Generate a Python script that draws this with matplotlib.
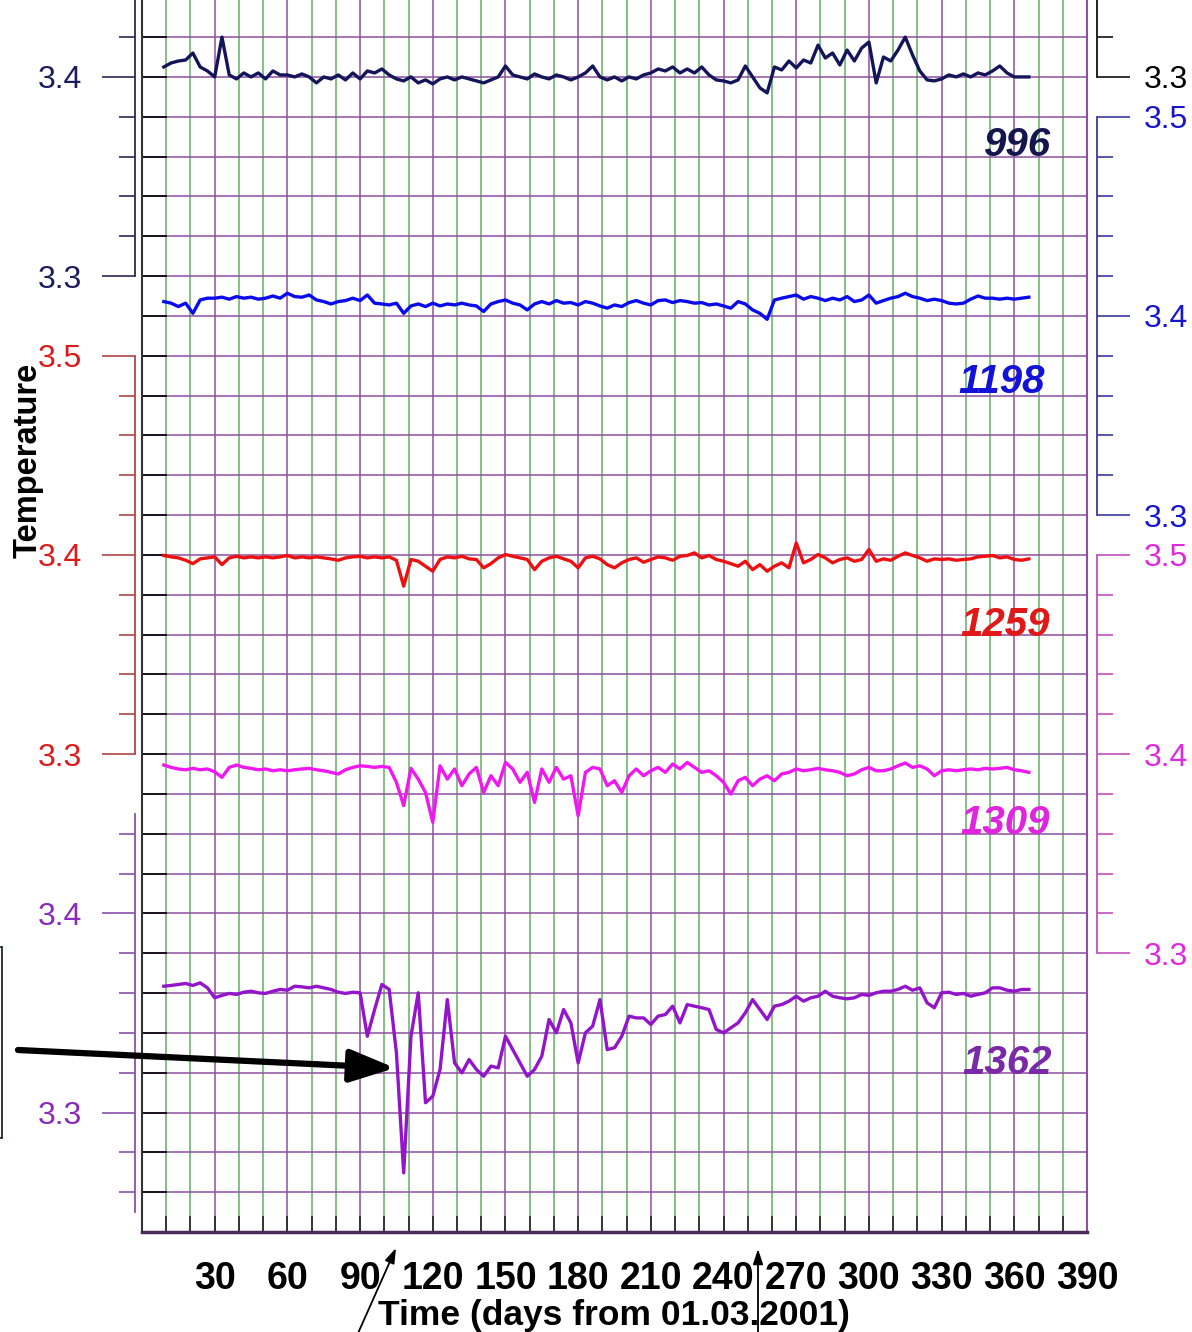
import numpy as np
import matplotlib
matplotlib.use('Agg')
import matplotlib.pyplot as plt
import matplotlib.font_manager as fm
from matplotlib.patches import FancyArrowPatch, Rectangle
from matplotlib.ticker import FixedLocator, FormatStrFormatter

names = {f.name for f in fm.fontManager.ttflist}
FONT = 'Liberation Sans Narrow' if 'Liberation Sans Narrow' in names else 'Liberation Sans'
plt.rcParams['font.family'] = [FONT, 'DejaVu Sans']

# ---- data (days from 01.03.2001, temperature) ----
days = np.arange(9, 367, 3)

t996 = [3.405, 3.407, 3.408, 3.4085, 3.412, 3.405, 3.403, 3.400, 3.420, 3.401,
        3.399, 3.402, 3.400, 3.402, 3.399, 3.403, 3.401, 3.401, 3.400, 3.4015,
        3.400, 3.397, 3.400, 3.399, 3.401, 3.3985, 3.402, 3.399, 3.403, 3.402,
        3.404, 3.401, 3.399, 3.398, 3.400, 3.397, 3.3985, 3.3965, 3.399, 3.400,
        3.3985, 3.400, 3.399, 3.398, 3.397, 3.3985, 3.400, 3.4055, 3.401, 3.400,
        3.399, 3.4015, 3.400, 3.399, 3.401, 3.400, 3.3985, 3.400, 3.402, 3.4055,
        3.400, 3.3985, 3.400, 3.398, 3.400, 3.399, 3.401, 3.402, 3.404, 3.403,
        3.405, 3.402, 3.404, 3.402, 3.405, 3.401, 3.3985, 3.398, 3.397, 3.3985,
        3.4055, 3.400, 3.3945, 3.392, 3.405, 3.4035, 3.408, 3.4045, 3.4085, 3.407,
        3.416, 3.4095, 3.412, 3.406, 3.4135, 3.408, 3.4145, 3.4175, 3.397, 3.410,
        3.408, 3.4135, 3.420, 3.411, 3.403, 3.3985, 3.398, 3.399, 3.401, 3.400,
        3.4015, 3.400, 3.402, 3.401, 3.403, 3.4055, 3.402, 3.400, 3.400, 3.400]

t1198 = [3.4072, 3.4064, 3.4047, 3.4064, 3.4013, 3.4080, 3.4089, 3.4089, 3.4094, 3.4084,
         3.4097, 3.4089, 3.4094, 3.4084, 3.4089, 3.4100, 3.4089, 3.4114, 3.4097, 3.4094,
         3.4105, 3.4080, 3.4072, 3.4060, 3.4072, 3.4077, 3.4089, 3.4077, 3.4105, 3.4064,
         3.4060, 3.4055, 3.4064, 3.4013, 3.4050, 3.4060, 3.4047, 3.4064, 3.4050, 3.4060,
         3.4055, 3.4064, 3.4055, 3.4050, 3.4022, 3.4060, 3.4072, 3.4080, 3.4064, 3.4055,
         3.4030, 3.4060, 3.4072, 3.4060, 3.4077, 3.4064, 3.4067, 3.4055, 3.4072, 3.4064,
         3.4050, 3.4039, 3.4055, 3.4047, 3.4067, 3.4077, 3.4064, 3.4055, 3.4077, 3.4080,
         3.4067, 3.4077, 3.4072, 3.4064, 3.4067, 3.4055, 3.4060, 3.4050, 3.4039, 3.4072,
         3.4060, 3.4030, 3.4013, 3.3983, 3.4080, 3.4089, 3.4097, 3.4105, 3.4084, 3.4097,
         3.4089, 3.4077, 3.4089, 3.4080, 3.4097, 3.4072, 3.4080, 3.4105, 3.4064, 3.4077,
         3.4089, 3.4097, 3.4114, 3.4097, 3.4089, 3.4077, 3.4084, 3.4077, 3.4064, 3.4060,
         3.4064, 3.4084, 3.4100, 3.4089, 3.4089, 3.4084, 3.4089, 3.4084, 3.4089, 3.4094]

t1259 = [3.3997, 3.3990, 3.3985, 3.3973, 3.3956, 3.3980, 3.3985, 3.3990, 3.3951, 3.3985,
         3.3993, 3.3985, 3.3990, 3.3985, 3.3990, 3.3985, 3.3990, 3.3997, 3.3985, 3.3990,
         3.3985, 3.3990, 3.3985, 3.3980, 3.3973, 3.3985, 3.3990, 3.3993, 3.3985, 3.3990,
         3.3985, 3.3990, 3.3973, 3.3843, 3.3977, 3.3968, 3.3943, 3.3918, 3.3977, 3.3990,
         3.3985, 3.3993, 3.3980, 3.3977, 3.3935, 3.3956, 3.3985, 3.4002, 3.3993, 3.3985,
         3.3977, 3.3926, 3.3968, 3.3985, 3.3993, 3.3980, 3.3968, 3.3935, 3.3985, 3.3993,
         3.3980, 3.3951, 3.3935, 3.3960, 3.3977, 3.3985, 3.3963, 3.3977, 3.3990, 3.3985,
         3.3973, 3.3993, 3.3997, 3.4010, 3.3985, 3.3997, 3.3977, 3.3968, 3.3956, 3.3943,
         3.3968, 3.3926, 3.3951, 3.3918, 3.3943, 3.3960, 3.3935, 3.4060, 3.3960, 3.3977,
         3.4002, 3.3985, 3.3960, 3.3977, 3.3985, 3.3968, 3.3977, 3.4027, 3.3968, 3.3980,
         3.3973, 3.3993, 3.4010, 3.3997, 3.3985, 3.3968, 3.3980, 3.3977, 3.3980, 3.3973,
         3.3977, 3.3980, 3.3990, 3.3993, 3.3997, 3.3985, 3.3990, 3.3977, 3.3973, 3.3980]

t1309 = [3.3945, 3.3933, 3.3925, 3.3921, 3.3928, 3.3921, 3.3925, 3.3911, 3.3883, 3.3933,
         3.3945, 3.3933, 3.3928, 3.3921, 3.3925, 3.3916, 3.3921, 3.3916, 3.3921, 3.3925,
         3.3928, 3.3921, 3.3916, 3.3908, 3.3900, 3.3921, 3.3933, 3.3941, 3.3938, 3.3933,
         3.3938, 3.3933, 3.3858, 3.3741, 3.3928, 3.3874, 3.3807, 3.3657, 3.3941, 3.3874,
         3.3925, 3.3841, 3.3900, 3.3933, 3.3807, 3.3891, 3.3841, 3.3958, 3.3925, 3.3858,
         3.3908, 3.3757, 3.3925, 3.3858, 3.3933, 3.3874, 3.3891, 3.3690, 3.3908, 3.3933,
         3.3925, 3.3841, 3.3866, 3.3807, 3.3891, 3.3925, 3.3891, 3.3916, 3.3933, 3.3908,
         3.3950, 3.3925, 3.3958, 3.3933, 3.3908, 3.3916, 3.3891, 3.3858, 3.3799, 3.3866,
         3.3883, 3.3841, 3.3874, 3.3891, 3.3866, 3.3900, 3.3908, 3.3925, 3.3916, 3.3921,
         3.3928, 3.3921, 3.3916, 3.3908, 3.3891, 3.3900, 3.3921, 3.3933, 3.3916, 3.3916,
         3.3925, 3.3941, 3.3955, 3.3933, 3.3941, 3.3925, 3.3891, 3.3916, 3.3921, 3.3916,
         3.3921, 3.3925, 3.3921, 3.3928, 3.3925, 3.3928, 3.3933, 3.3921, 3.3916, 3.3908]

t1362 = [3.3634, 3.3638, 3.3643, 3.3648, 3.3638, 3.3651, 3.3626, 3.3576, 3.3588, 3.3598,
         3.3593, 3.3604, 3.3609, 3.3601, 3.3598, 3.3609, 3.3618, 3.3614, 3.3634, 3.3631,
         3.3626, 3.3634, 3.3626, 3.3618, 3.3604, 3.3598, 3.3604, 3.3601, 3.3383, 3.3517,
         3.3643, 3.3618, 3.3300, 3.2697, 3.3383, 3.3601, 3.3049, 3.3082, 3.3216, 3.3567,
         3.3249, 3.3199, 3.3266, 3.3216, 3.3182, 3.3233, 3.3224, 3.3383, 3.3316, 3.3249,
         3.3182, 3.3216, 3.3283, 3.3467, 3.3400, 3.3517, 3.3450, 3.3249, 3.3400, 3.3434,
         3.3567, 3.3316, 3.3325, 3.3383, 3.3484, 3.3475, 3.3475, 3.3442, 3.3484, 3.3492,
         3.3534, 3.3450, 3.3542, 3.3534, 3.3526, 3.3517, 3.3417, 3.3400, 3.3425, 3.3450,
         3.3501, 3.3567, 3.3517, 3.3467, 3.3534, 3.3542, 3.3559, 3.3584, 3.3559, 3.3576,
         3.3584, 3.3609, 3.3584, 3.3576, 3.3571, 3.3576, 3.3593, 3.3588, 3.3601, 3.3609,
         3.3609, 3.3618, 3.3634, 3.3614, 3.3626, 3.3551, 3.3526, 3.3601, 3.3604, 3.3593,
         3.3598, 3.3584, 3.3593, 3.3601, 3.3626, 3.3626, 3.3614, 3.3609, 3.3618, 3.3618]

x_ticks = [30, 60, 90, 120, 150, 180, 210, 240, 270, 300, 330, 360, 390]
grid_days = np.arange(10, 391, 10)

# ---- layout ----
W, H = 1192, 1332
STEP = 0.02          # one horizontal grid cell
JTOP = 1232 / 39.83  # grid cells from the bottom spine to the top edge

PURPLE = '#8e4f9e'
GREEN = '#62b062'

fig = plt.figure(figsize=(W / 100, H / 100), dpi=100)
ax = fig.add_axes([142 / W, 100 / H, 945 / W, 1232 / H])


def lim(ref, jref):
    return ref - jref * STEP, ref + (JTOP - jref) * STEP


ax.set_xlim(0, 390)
ax.set_ylim(*lim(3.3, 3))
ax.set_xticks(x_ticks)
ax.set_xticks(grid_days, minor=True)
ax.set_yticks(np.arange(3.24, 3.86, 0.02))
ax.grid(which='major', axis='both', color=PURPLE, lw=1.1)
ax.grid(which='minor', axis='x', color=GREEN, lw=1.1)
ax.tick_params(axis='x', which='both', direction='in', length=11.5, width=1.2,
               color='#222222', pad=21, labelsize=27)
ax.tick_params(axis='y', which='major', direction='in', length=18, width=1.2,
               color='black', left=True, right=False, labelleft=False)
for lbl in ax.get_xticklabels():
    lbl.set_fontweight('bold')
ax.spines['top'].set_visible(False)
ax.spines['left'].set_color('#333333')
ax.spines['left'].set_linewidth(1.5)
ax.spines['bottom'].set_color('#4a2a5a')
ax.spines['bottom'].set_linewidth(2.5)
ax.spines['right'].set_color(PURPLE)
ax.spines['right'].set_linewidth(1.5)


def scale_axis(ref, jref, side, color, lab_color, lo, hi=None):
    t = ax.twinx()
    t.set_ylim(*lim(ref, jref))
    for s in t.spines.values():
        s.set_visible(False)
    sp = t.spines[side]
    sp.set_visible(True)
    sp.set_color(color)
    sp.set_linewidth(1.3)
    sp.set_position(('outward', 5 if side == 'left' else 7.2))
    top = t.get_ylim()[1] if hi is None else hi
    sp.set_bounds(lo, top)
    if side == 'left':
        t.yaxis.tick_left()
    else:
        t.yaxis.tick_right()
    majors = [v for v in np.arange(3.2, 3.6, 0.1) if lo - 1e-6 <= v <= top + 1e-6]
    minors = [v for v in np.arange(3.2, 3.6, 0.02) if lo - 1e-6 <= v <= top + 1e-6]
    t.yaxis.set_major_locator(FixedLocator(majors))
    t.yaxis.set_minor_locator(FixedLocator(minors))
    t.yaxis.set_major_formatter(FormatStrFormatter('%.1f'))
    t.tick_params(axis='y', which='major', length=24, width=1.2, color=color,
                  labelcolor=lab_color, labelsize=23, pad=14 if side == 'left' else 10)
    t.tick_params(axis='y', which='minor', length=11.5, width=1.2, color=color)
    return t


# black scale on the right (upper record, cut off)
scale_axis(3.3, 29, 'right', '#111111', 'black', 3.3)

a996 = scale_axis(3.4, 29, 'left', '#2a2a55', '#1c1c5c', 3.3)
a996.plot(days, t996, color='#14145a', lw=2.4)

a1198 = scale_axis(3.4, 23, 'right', '#3a3aa0', '#1616cc', 3.3, 3.5)
a1198.plot(days, t1198, color='#0a0aee', lw=2.4)

a1259 = scale_axis(3.4, 17, 'left', '#b04545', '#dd1a1a', 3.3, 3.5)
a1259.plot(days, t1259, color='#ee1010', lw=2.4)

a1309 = scale_axis(3.4, 12, 'right', '#c050c0', '#e028e0', 3.3, 3.5)
a1309.plot(days, t1309, color='#f018f0', lw=2.4)

a1362 = scale_axis(3.4, 8, 'left', '#8a50b0', '#8a2ab8', 3.25, 3.45)
a1362.plot(days, t1362, color='#9414cc', lw=2.4)

# record labels
for txt, xp, yp, c in [('996', 1017, 145, '#16164e'), ('1198', 1002, 382, '#1212d8'),
                       ('1259', 1005, 625, '#e01818'), ('1309', 1005, 823, '#e024e0'),
                       ('1362', 1007, 1063, '#7a2aa8')]:
    fig.text(xp / W, 1 - yp / H, txt, color=c, fontsize=29, fontweight='bold',
             style='italic', ha='center', va='center')

fig.text(28 / W, 1 - 460 / H, 'Temperature', rotation=90, fontsize=23.5,
         fontweight='bold', ha='center', va='center')
fig.text(378 / W, 1 - 1325 / H, 'Time (days from 01.03.2001)', fontsize=25.5,
         fontweight='bold', ha='left', va='baseline')

# annotations
fig.add_artist(FancyArrowPatch((18 / W, 1 - 1050 / H), (395 / W, 1 - 1068 / H),
                               transform=fig.transFigure, color='black', lw=4.5,
                               arrowstyle='-|>,head_length=1.37,head_width=0.5',
                               mutation_scale=20, shrinkA=0, shrinkB=0))
fig.add_artist(FancyArrowPatch((355 / W, 1 - 1340 / H), (396 / W, 1 - 1248 / H),
                               transform=fig.transFigure, color='black', lw=1.3,
                               arrowstyle='-|>,head_length=0.6,head_width=0.2',
                               mutation_scale=15, shrinkA=0, shrinkB=0))
fig.add_artist(FancyArrowPatch((758 / W, 1 - 1340 / H), (758 / W, 1 - 1249 / H),
                               transform=fig.transFigure, color='black', lw=1.3,
                               arrowstyle='-|>,head_length=0.6,head_width=0.2',
                               mutation_scale=15, shrinkA=0, shrinkB=0))
fig.add_artist(Rectangle((-0.1, 1 - 1138 / H), 0.1 + 2 / W, (1138 - 947) / H,
                         transform=fig.transFigure, fill=False, ec='#1a2a2a', lw=1.3))

fig.savefig('out.png', dpi=100)
